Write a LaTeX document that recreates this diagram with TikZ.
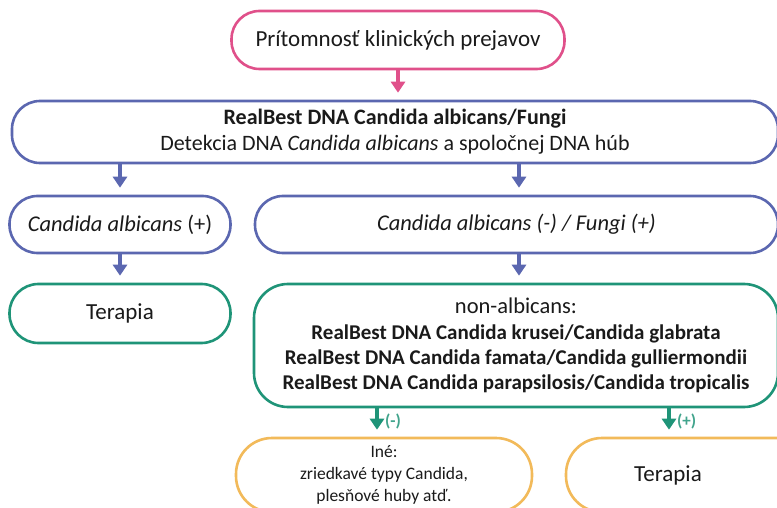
\documentclass[tikz,border=0pt]{standalone}
\usepackage{fontspec}
\setmainfont{Carlito}
\usetikzlibrary{arrows.meta}
\definecolor{cpink}{HTML}{E0508A}
\definecolor{cblue}{HTML}{5B67B0}
\definecolor{cgreen}{HTML}{1F9478}
\definecolor{corange}{HTML}{F2BA5A}
\definecolor{ctext}{HTML}{1A1A1A}
\tikzset{
  box/.style={draw, line width=2.6pt, align=center, inner sep=0pt, text=ctext},
  flowarrow/.style={line width=4pt, -{Triangle[width=14pt,length=11pt]}, shorten >=7pt},
  armlabel/.style={font=\fontsize{17}{19}\selectfont\bfseries, text=cgreen!85, inner sep=1pt}
}
\begin{document}
\begin{tikzpicture}[x=1pt,y=-1pt]
\useasboundingbox (0,0) rectangle (777,508);
\clip (0,0) rectangle (777,508);
\fill[white] (0,0) rectangle (777,508);

\node[box, draw=cpink, minimum width=333pt, minimum height=58pt, rounded corners=28pt,
  font=\fontsize{23}{26}\selectfont] (top) at (398,40) {Prítomnosť klinických prejavov};

\node[box, draw=cblue, minimum width=766pt, minimum height=62pt, rounded corners=28pt,
  font=\fontsize{22}{26}\selectfont] (dna) at (395,132)
  {\textbf{RealBest DNA Candida albicans/Fungi}\\Detekcia DNA \textit{Candida albicans} a spoločnej DNA húb};

\node[box, draw=cblue, minimum width=221pt, minimum height=57pt, rounded corners=28pt,
  font=\fontsize{22.5}{26}\selectfont] (capos) at (120,224.5) {\textit{Candida albicans} (+)};

\node[box, draw=cblue, minimum width=523pt, minimum height=57pt, rounded corners=28pt,
  font=\fontsize{22.5}{26}\selectfont] (caneg) at (516.5,224.5) {\textit{Candida albicans (-) / Fungi (+)}};

\node[box, draw=cgreen, minimum width=221pt, minimum height=59pt, rounded corners=29pt,
  font=\fontsize{23}{26}\selectfont] (ter1) at (120,313.5) {Terapia};

\node[box, draw=cgreen, minimum width=524pt, minimum height=123pt, rounded corners=34pt,
  font=\fontsize{21}{25.3}\selectfont] (nonalb) at (516,345.5)
  {{\fontsize{22.5}{25.3}\selectfont non-albicans:}\\\textbf{RealBest DNA Candida krusei/Candida glabrata}\\\textbf{RealBest DNA Candida famata/Candida gulliermondii}\\\textbf{RealBest DNA Candida parapsilosis/Candida tropicalis}};

\node[box, draw=corange, minimum width=296pt, minimum height=74pt, rounded corners=36pt,
  font=\fontsize{17.5}{22}\selectfont] (ine) at (384,475)
  {Iné:\\zriedkavé typy Candida,\\plesňové huby atď.};

\node[box, draw=corange, minimum width=300pt, minimum height=74pt, rounded corners=36pt,
  font=\fontsize{23}{26}\selectfont] (ter2) at (716,475) {\hspace*{-96pt}Terapia};

\draw[flowarrow, cpink] (top.south) -- (top.south |- dna.north);
\draw[flowarrow, cblue] (dna.south -| capos.north) -- (capos.north);
\draw[flowarrow, cblue] (dna.south -| 519,0) coordinate (d1) -- (d1 |- caneg.north);
\draw[flowarrow, cblue] (capos.south) -- (ter1.north);
\draw[flowarrow, cblue] (caneg.south -| 519,0) coordinate (d2) -- (d2 |- nonalb.north);
\draw[flowarrow, cgreen] (nonalb.south -| 377,0) coordinate (g1) -- (g1 |- ine.north)
  node[armlabel, pos=0.45, right=5pt] (lneg) {(-)};
\draw[flowarrow, cgreen] (nonalb.south -| 669,0) coordinate (g2) -- (g2 |- ter2.north)
  node[armlabel, pos=0.45, right=5pt] (lpos) {(+)};
\end{tikzpicture}
\end{document}
